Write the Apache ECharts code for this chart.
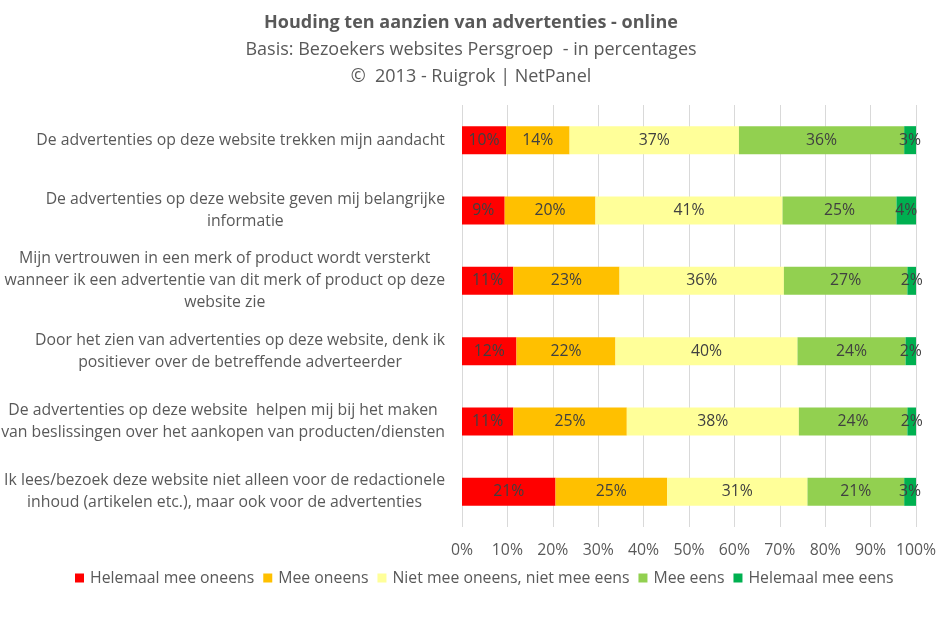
<!DOCTYPE html>
<html><head><meta charset="utf-8">
<script src="https://cdn.jsdelivr.net/npm/echarts@6/dist/echarts.min.js"></script>
<style>html,body{margin:0;padding:0;background:#fff}#c{width:944px;height:617px}</style>
</head><body><div id="c"></div>
<script>
const categories = [
  "De advertenties op deze website trekken mijn aandacht",
  "De advertenties op deze website geven mij belangrijke\ninformatie",
  "Mijn vertrouwen in een merk of product wordt versterkt\nwanneer ik een advertentie van dit merk of product op deze\nwebsite zie",
  "Door het zien van advertenties op deze website, denk ik\npositiever over de betreffende adverteerder",
  "De advertenties op deze website  helpen mij bij het maken\nvan beslissingen over het aankopen van producten/diensten",
  "Ik lees/bezoek deze website niet alleen voor de redactionele\ninhoud (artikelen etc.), maar ook voor de advertenties"
];
const seriesNames = ["Helemaal mee oneens","Mee oneens","Niet mee oneens, niet mee eens","Mee eens","Helemaal mee eens"];
const helemaalOneens = [9.7, 9.4, 11.3, 12.0, 11.3, 20.6];
const meeOneens      = [14.0, 20.0, 23.4, 21.8, 25.0, 24.6];
const neutraal       = [37.3, 41.2, 36.2, 40.1, 37.9, 30.9];
const meeEens        = [36.4, 25.1, 27.2, 23.8, 23.9, 21.3];
const helemaalEens   = [2.6, 4.3, 1.9, 2.3, 1.9, 2.6];
const xTicks = [0,10,20,30,40,50,60,70,80,90,100];
const colors = ["#FF0000","#FFC000","#FFFF99","#92D050","#00B050"];
const values = [helemaalOneens, meeOneens, neutraal, meeEens, helemaalEens];

const FONT = "'Open Sans', sans-serif";
const FS = 15.8;
const chart = echarts.init(document.getElementById('c'));
chart.setOption({
  animation:false,
  color: colors,
  title: {
    text: "Houding ten aanzien van advertenties - online",
    subtext: "Basis: Bezoekers websites Persgroep  - in percentages\n©  2013 - Ruigrok | NetPanel",
    left: 466, textAlign: 'center', top: 9, itemGap: 4,
    textStyle: {fontFamily: FONT, fontSize: 18, fontWeight: 'bold', color: '#595959'},
    subtextStyle: {fontFamily: FONT, fontSize: 18, color: '#595959', lineHeight: 27}
  },
  legend: {
    bottom: 26, left: 70, itemWidth: 9, itemHeight: 9, itemGap: 9,
    icon: 'rect',
    textStyle: {fontFamily: FONT, fontSize: FS, color: '#595959', padding:[0,0,0,1]},
    data: seriesNames
  },
  grid: {left: 462, right: 28, top: 105, bottom: 90, containLabel: false, outerBoundsMode: 'none'},
  xAxis: {
    type: 'value', min: 0, max: 100, interval: 10,
    axisLine: {show:false}, axisTick: {show:false},
    splitLine: {lineStyle: {color: '#D9D9D9'}},
    axisLabel: {fontFamily: FONT, fontSize: FS, color: '#595959', margin: 15,
      formatter: v => xTicks.includes(v) ? v + '%' : ''}
  },
  yAxis: {
    type: 'category', inverse: true, data: categories,
    axisLine: {show:false}, axisTick: {show:false},
    axisLabel: {
      align: 'right', margin: 17,
      formatter: v => v.split('\n').map(l => '{c|' + l + '}').join('\n'),
      rich: {c: {align: 'center', fontFamily: FONT, fontSize: FS, color: '#595959', lineHeight: 22}}
    }
  },
  series: seriesNames.map((n, i) => ({
    name: n, type: 'bar', stack: 'total', data: values[i], barWidth: 28,
    label: {show: true, position: 'inside', fontFamily: FONT, fontSize: FS, color: '#404040',
      formatter: p => Math.round(p.value) + '%'}
  }))
});
</script></body></html>
